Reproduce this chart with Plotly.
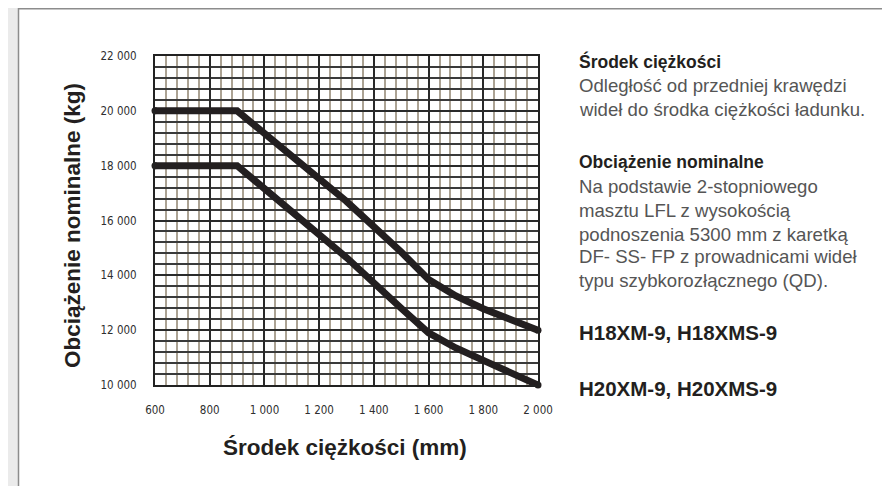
import plotly.graph_objects as go

# ---------------- data ----------------
x_upper = [600, 900, 1300, 1400, 1500, 1600, 1700, 1800, 1900, 2000]
y_upper = [20000, 20000, 16700, 15800, 14850, 13850, 13250, 12780, 12380, 12000]

x_lower = [600, 900, 1300, 1400, 1500, 1600, 1700, 1800, 1900, 2000]
y_lower = [18000, 18000, 14650, 13700, 12800, 11900, 11350, 10900, 10450, 10000]

x_tickvals = [600, 800, 1000, 1200, 1400, 1600, 1800, 2000]
x_ticktext = ["600", "800", "1 000", "1 200", "1 400", "1 600", "1 800", "2 000"]
y_tickvals = [10000, 12000, 14000, 16000, 18000, 20000, 22000]
y_ticktext = ["10 000", "12 000", "14 000", "16 000", "18 000", "20 000", "22 000"]

x_title = "Środek ciężkości (mm)"
y_title = "Obciążenie nominalne (kg)"

side_lines = [
    ("Środek ciężkości", "head"),
    ("Odległość od przedniej krawędzi", "body"),
    ("wideł do środka ciężkości ładunku.", "body"),
    ("Obciążenie nominalne", "head"),
    ("Na podstawie 2-stopniowego", "body"),
    ("masztu LFL z wysokością", "body"),
    ("podnoszenia 5300 mm z karetką", "body"),
    ("DF- SS- FP z prowadnicami wideł", "body"),
    ("typu szybkorozłącznego (QD).", "body"),
    ("H18XM-9, H18XMS-9", "model"),
    ("H20XM-9, H20XMS-9", "model"),
]
side_y_px = [62, 86, 109, 162, 186, 210, 234, 257, 280, 332, 389]

# ---------------- layout geometry (page pixels; page body has an 8px margin) ----------------
OFF = 8
W, H = 890 - OFF, 486 - OFF
L, R, T, B = 155 - OFF, 538 - OFF, 56 - OFF, 385 - OFF


def px(xp):
    return (xp - OFF - L) / (R - L)


def py(yp):
    return (B - (yp - OFF)) / (B - T)


LINE = "#231f20"
fig = go.Figure()
for xs, ys in [(x_upper, y_upper), (x_lower, y_lower)]:
    fig.add_trace(go.Scatter(x=xs, y=ys, mode="lines",
                             line=dict(color=LINE, width=7),
                             hoverinfo="skip", showlegend=False))
    fig.add_trace(go.Scatter(x=[xs[0], xs[-1]], y=[ys[0], ys[-1]], mode="markers",
                             marker=dict(color=LINE, size=7), cliponaxis=False,
                             hoverinfo="skip", showlegend=False))

tick_font = dict(family="DejaVu Sans Condensed, Liberation Sans Narrow, Liberation Sans", size=11.5,
                 color="#2f2f2f")

fig.update_xaxes(range=[600, 2000], tickmode="array", tickvals=x_tickvals, ticktext=x_ticktext,
                 showgrid=True, gridcolor="#2a2a2a", gridwidth=2,
                 minor=dict(tick0=600, dtick=40, showgrid=True, gridcolor="#aca394", gridwidth=2),
                 showline=True, mirror=True, linecolor="#222222", linewidth=2,
                 ticks="", tickfont=tick_font, ticklabelstandoff=13, zeroline=False)
fig.update_yaxes(range=[10000, 22000], tickmode="array", tickvals=y_tickvals, ticktext=y_ticktext,
                 showgrid=True, gridcolor="#2a2a2a", gridwidth=2,
                 minor=dict(tick0=10000, dtick=400, showgrid=True, gridcolor="#3a3a3a", gridwidth=1.5),
                 showline=True, mirror=True, linecolor="#222222", linewidth=2,
                 ticks="", tickfont=tick_font, ticklabelstandoff=14, zeroline=False)

shapes = [dict(type="rect", xref="paper", yref="paper",
               x0=px(18.5), x1=px(905), y0=py(500), y1=py(8.75),
               fillcolor="white", line=dict(color="#8c8c8c", width=1.5), layer="below")]

annotations = [
    dict(text=f"<b>{y_title}</b>", xref="paper", yref="paper", x=px(72), y=py(226),
         textangle=-90, showarrow=False, xanchor="center", yanchor="middle",
         font=dict(family="Liberation Sans, Arial", size=22.5, color="#231f20")),
    dict(text=f"<b>{x_title}</b>", xref="paper", yref="paper", x=px(345), y=py(447),
         showarrow=False, xanchor="center", yanchor="middle",
         font=dict(family="Liberation Sans, Arial", size=22.5, color="#231f20")),
]

styles = {
    "head": dict(size=17.5, color="#231f20", bold=True),
    "body": dict(size=18.6, color="#555555", bold=False),
    "model": dict(size=20.5, color="#231f20", bold=True),
}
for (txt, kind), yp in zip(side_lines, side_y_px):
    st = styles[kind]
    annotations.append(dict(
        text=f"<b>{txt}</b>" if st["bold"] else txt,
        xref="paper", yref="paper", x=px(577), y=py(yp),
        xanchor="left", yanchor="middle", showarrow=False,
        font=dict(family="Liberation Sans, Arial", size=st["size"], color=st["color"])))

fig.update_layout(width=W, height=H, autosize=False,
                  margin=dict(l=L, r=W - R, t=T, b=H - B, pad=0),
                  paper_bgcolor="#ebebeb", plot_bgcolor="#fdf5dc",
                  shapes=shapes, annotations=annotations, showlegend=False)

fig.write_html("out.html")
